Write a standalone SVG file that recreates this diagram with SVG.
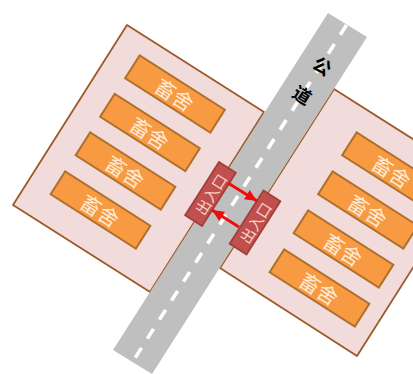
<svg xmlns="http://www.w3.org/2000/svg" width="413" height="374" viewBox="0 0 413 374">
<style>
.lot{fill:#f2dcdb;stroke:#9c5a26;stroke-width:1.8;stroke-linejoin:round}
.barn rect{fill:#f79a42;stroke:#b0702c;stroke-width:2}
.barn text{fill:#fdebd8;font:20.500px "Noto Sans CJK SC","Liberation Sans",sans-serif;text-anchor:middle;dominant-baseline:central}
.gate rect{fill:#c0504d;stroke:#a23f3d;stroke-width:1.8}
.gate text{fill:#f7d3c8;font:15px "Noto Sans CJK SC","Liberation Sans",sans-serif;text-anchor:middle;dominant-baseline:central}
.road-t{fill:#000;font:bold 18px "Noto Sans CJK SC","Liberation Sans",sans-serif;text-anchor:middle;dominant-baseline:central}
.arr{stroke:#f00c0c;stroke-width:3;fill:none;marker-end:url(#ah)}
</style>
<defs>
<marker id="ah" markerUnits="userSpaceOnUse" markerWidth="13" markerHeight="12" refX="12" refY="6" orient="auto"><path d="M0 0.500L12 6L0 11.500Z" fill="#f00c0c"/></marker>
</defs>
<g id="lot-left"><polygon class="lot" points="127,25 264,112 150,292 13,205"/></g>
<g id="lot-right"><polygon class="lot" points="334,89 471,176 357,356 220,268"/></g>
<g id="road">
<polygon points="328,13 367,37 152,374 113,350" fill="#bfbfbf"/>
<line x1="346.500" y1="25" x2="132.500" y2="362" stroke="#fff" stroke-width="3.600" stroke-dasharray="11.500 11"/>
<text class="road-t" transform="translate(323,65) rotate(32.500)">公</text>
<text class="road-t" transform="translate(303,94) rotate(32.500)">道</text>
</g>
<g id="barn-l1" class="barn" transform="translate(175,94) rotate(32.500)"><rect x="-50.500" y="-13.500" width="101" height="27"/><text>畜舍</text></g>
<g id="barn-l2" class="barn" transform="translate(150,132.500) rotate(32.500)"><rect x="-50.500" y="-13.500" width="101" height="27"/><text>畜舍</text></g>
<g id="barn-l3" class="barn" transform="translate(125.500,171) rotate(32.500)"><rect x="-50.500" y="-13.500" width="101" height="27"/><text>畜舍</text></g>
<g id="barn-l4" class="barn" transform="translate(100.500,210) rotate(32.500)"><rect x="-50.500" y="-13.500" width="101" height="27"/><text>畜舍</text></g>
<g id="barn-r1" class="barn" transform="translate(392,171) rotate(32.500)"><rect x="-50.500" y="-13.500" width="101" height="27"/><text>畜舍</text></g>
<g id="barn-r2" class="barn" transform="translate(368,210) rotate(32.500)"><rect x="-50.500" y="-13.500" width="101" height="27"/><text>畜舍</text></g>
<g id="barn-r3" class="barn" transform="translate(343.500,249) rotate(32.500)"><rect x="-50.500" y="-13.500" width="101" height="27"/><text>畜舍</text></g>
<g id="barn-r4" class="barn" transform="translate(319.500,288) rotate(32.500)"><rect x="-50.500" y="-13.500" width="101" height="27"/><text>畜舍</text></g>
<g id="gate-left" class="gate" transform="translate(210.500,194) rotate(-57.500)"><rect x="-31.500" y="-10" width="63" height="20"/><text>出入口</text></g>
<g id="gate-right" class="gate" transform="translate(255,222.500) rotate(-57.500)"><rect x="-31.500" y="-10" width="63" height="20"/><text>出入口</text></g>
<g id="connectors">
<line class="arr" x1="228" y1="183" x2="257" y2="201"/>
<line class="arr" x1="239" y1="227" x2="212" y2="210"/>
</g>
</svg>
